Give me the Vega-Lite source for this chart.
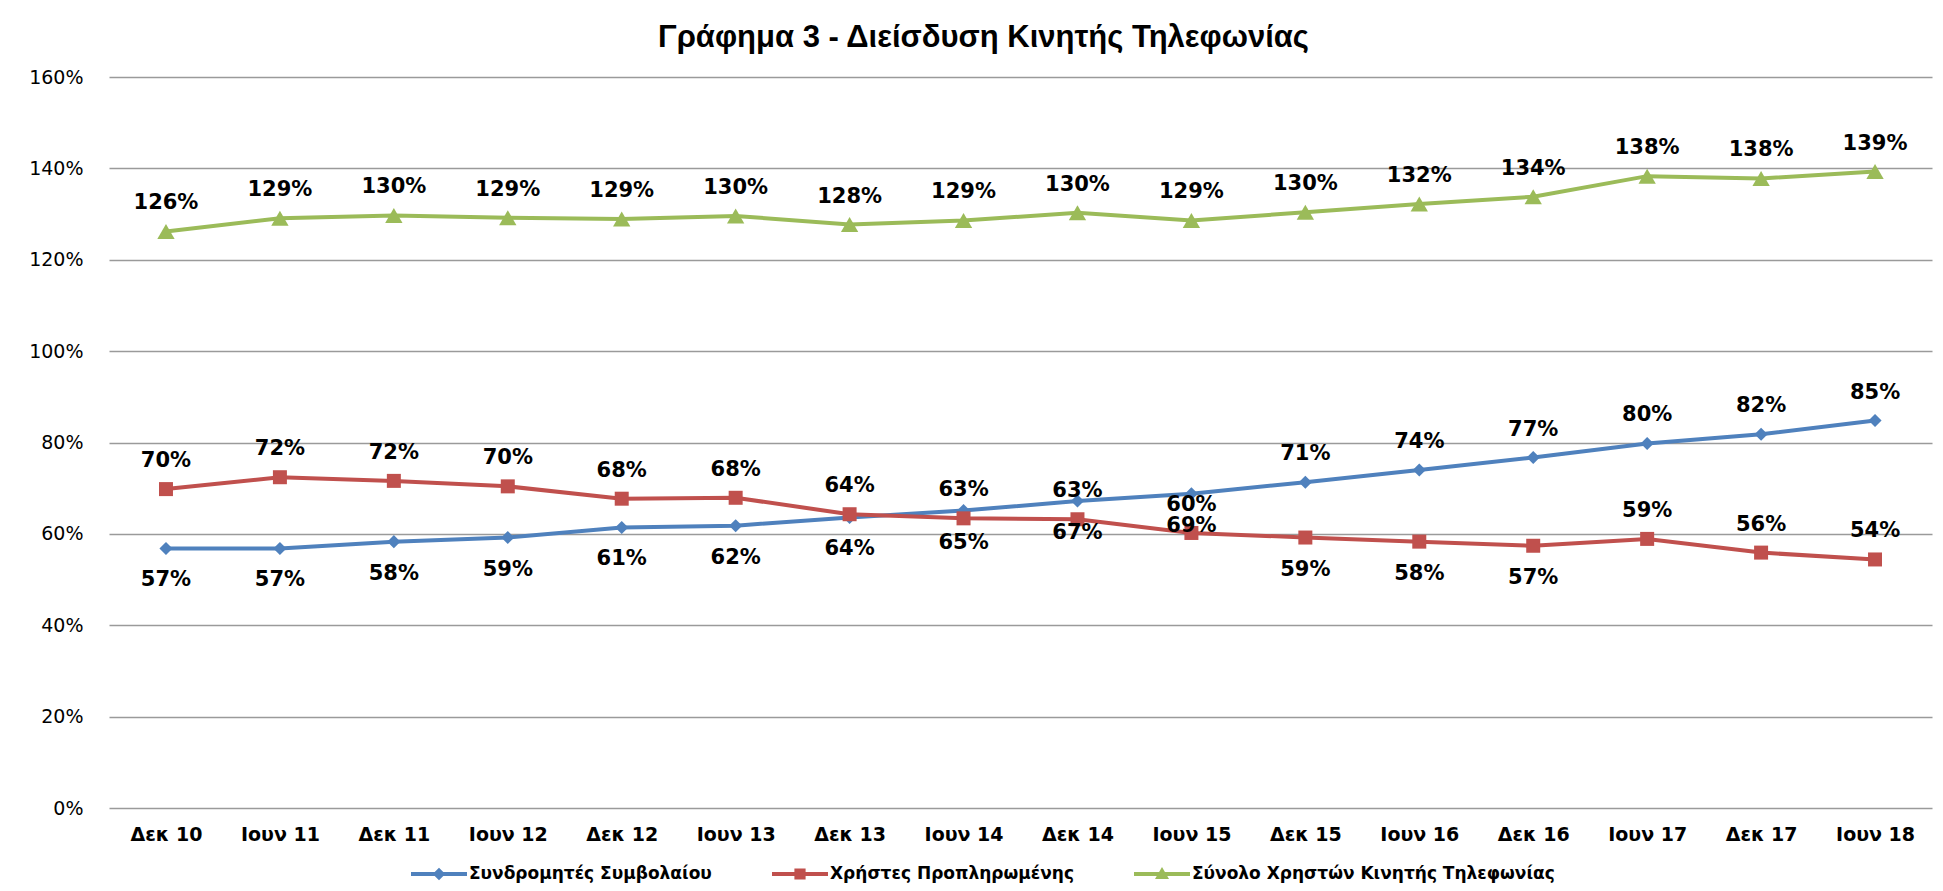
{
  "$schema": "https://vega.github.io/schema/vega-lite/v6.json",
  "width": 1823,
  "height": 731,
  "autosize": {"type": "none"},
  "padding": {"left": 109, "top": 77, "right": 11, "bottom": 83},
  "background": "white",
  "title": {
    "text": "Γράφημα 3 - Διείσδυση Κινητής Τηλεφωνίας",
    "font": "Liberation Sans Narrow, Arial Narrow, Liberation Sans",
    "fontSize": 31,
    "fontWeight": "bold",
    "color": "#000000",
    "anchor": "middle",
    "dx": -37,
    "offset": 14
  },
  "config": {
    "view": {"stroke": null},
    "axis": {"domain": false, "ticks": false}
  },
  "data": {
    "values": [
      {"period": "Δεκ 10", "series": "Συνδρομητές Συμβολαίου", "value": 0.568},
      {"period": "Ιουν 11", "series": "Συνδρομητές Συμβολαίου", "value": 0.568},
      {"period": "Δεκ 11", "series": "Συνδρομητές Συμβολαίου", "value": 0.583},
      {"period": "Ιουν 12", "series": "Συνδρομητές Συμβολαίου", "value": 0.592},
      {"period": "Δεκ 12", "series": "Συνδρομητές Συμβολαίου", "value": 0.614},
      {"period": "Ιουν 13", "series": "Συνδρομητές Συμβολαίου", "value": 0.618},
      {"period": "Δεκ 13", "series": "Συνδρομητές Συμβολαίου", "value": 0.636},
      {"period": "Ιουν 14", "series": "Συνδρομητές Συμβολαίου", "value": 0.651},
      {"period": "Δεκ 14", "series": "Συνδρομητές Συμβολαίου", "value": 0.672},
      {"period": "Ιουν 15", "series": "Συνδρομητές Συμβολαίου", "value": 0.688},
      {"period": "Δεκ 15", "series": "Συνδρομητές Συμβολαίου", "value": 0.713},
      {"period": "Ιουν 16", "series": "Συνδρομητές Συμβολαίου", "value": 0.740},
      {"period": "Δεκ 16", "series": "Συνδρομητές Συμβολαίου", "value": 0.767},
      {"period": "Ιουν 17", "series": "Συνδρομητές Συμβολαίου", "value": 0.798},
      {"period": "Δεκ 17", "series": "Συνδρομητές Συμβολαίου", "value": 0.818},
      {"period": "Ιουν 18", "series": "Συνδρομητές Συμβολαίου", "value": 0.848},
      {"period": "Δεκ 10", "series": "Χρήστες Προπληρωμένης", "value": 0.698},
      {"period": "Ιουν 11", "series": "Χρήστες Προπληρωμένης", "value": 0.724},
      {"period": "Δεκ 11", "series": "Χρήστες Προπληρωμένης", "value": 0.716},
      {"period": "Ιουν 12", "series": "Χρήστες Προπληρωμένης", "value": 0.704},
      {"period": "Δεκ 12", "series": "Χρήστες Προπληρωμένης", "value": 0.677},
      {"period": "Ιουν 13", "series": "Χρήστες Προπληρωμένης", "value": 0.679},
      {"period": "Δεκ 13", "series": "Χρήστες Προπληρωμένης", "value": 0.643},
      {"period": "Ιουν 14", "series": "Χρήστες Προπληρωμένης", "value": 0.634},
      {"period": "Δεκ 14", "series": "Χρήστες Προπληρωμένης", "value": 0.632},
      {"period": "Ιουν 15", "series": "Χρήστες Προπληρωμένης", "value": 0.602},
      {"period": "Δεκ 15", "series": "Χρήστες Προπληρωμένης", "value": 0.592},
      {"period": "Ιουν 16", "series": "Χρήστες Προπληρωμένης", "value": 0.583},
      {"period": "Δεκ 16", "series": "Χρήστες Προπληρωμένης", "value": 0.574},
      {"period": "Ιουν 17", "series": "Χρήστες Προπληρωμένης", "value": 0.589},
      {"period": "Δεκ 17", "series": "Χρήστες Προπληρωμένης", "value": 0.559},
      {"period": "Ιουν 18", "series": "Χρήστες Προπληρωμένης", "value": 0.544},
      {"period": "Δεκ 10", "series": "Σύνολο Χρηστών Κινητής Τηλεφωνίας", "value": 1.262},
      {"period": "Ιουν 11", "series": "Σύνολο Χρηστών Κινητής Τηλεφωνίας", "value": 1.291},
      {"period": "Δεκ 11", "series": "Σύνολο Χρηστών Κινητής Τηλεφωνίας", "value": 1.297},
      {"period": "Ιουν 12", "series": "Σύνολο Χρηστών Κινητής Τηλεφωνίας", "value": 1.292},
      {"period": "Δεκ 12", "series": "Σύνολο Χρηστών Κινητής Τηλεφωνίας", "value": 1.289},
      {"period": "Ιουν 13", "series": "Σύνολο Χρηστών Κινητής Τηλεφωνίας", "value": 1.296},
      {"period": "Δεκ 13", "series": "Σύνολο Χρηστών Κινητής Τηλεφωνίας", "value": 1.277},
      {"period": "Ιουν 14", "series": "Σύνολο Χρηστών Κινητής Τηλεφωνίας", "value": 1.286},
      {"period": "Δεκ 14", "series": "Σύνολο Χρηστών Κινητής Τηλεφωνίας", "value": 1.303},
      {"period": "Ιουν 15", "series": "Σύνολο Χρηστών Κινητής Τηλεφωνίας", "value": 1.286},
      {"period": "Δεκ 15", "series": "Σύνολο Χρηστών Κινητής Τηλεφωνίας", "value": 1.304},
      {"period": "Ιουν 16", "series": "Σύνολο Χρηστών Κινητής Τηλεφωνίας", "value": 1.322},
      {"period": "Δεκ 16", "series": "Σύνολο Χρηστών Κινητής Τηλεφωνίας", "value": 1.338},
      {"period": "Ιουν 17", "series": "Σύνολο Χρηστών Κινητής Τηλεφωνίας", "value": 1.383},
      {"period": "Δεκ 17", "series": "Σύνολο Χρηστών Κινητής Τηλεφωνίας", "value": 1.378},
      {"period": "Ιουν 18", "series": "Σύνολο Χρηστών Κινητής Τηλεφωνίας", "value": 1.393}
    ]
  },
  "encoding": {
    "x": {
      "field": "period",
      "type": "nominal",
      "sort": null,
      "scale": {"type": "point", "padding": 0.5},
      "axis": {
        "title": null,
        "labelAngle": 0,
        "labelFont": "DejaVu Sans",
        "labelFontWeight": "bold",
        "labelFontSize": 19,
        "labelColor": "#000000",
        "labelPadding": 17,
        "grid": false
      }
    },
    "y": {
      "field": "value",
      "type": "quantitative",
      "scale": {"domain": [0, 1.6], "nice": false, "zero": true},
      "axis": {
        "title": null,
        "values": [0, 0.2, 0.4, 0.6, 0.8, 1.0, 1.2, 1.4, 1.6],
        "format": ".0%",
        "labelFont": "DejaVu Sans",
        "labelFontSize": 19,
        "labelColor": "#000000",
        "labelPadding": 26,
        "grid": true,
        "gridColor": "#9a9a9a",
        "gridWidth": 1.6
      }
    },
    "color": {
      "field": "series",
      "type": "nominal",
      "scale": {
        "domain": ["Συνδρομητές Συμβολαίου", "Χρήστες Προπληρωμένης", "Σύνολο Χρηστών Κινητής Τηλεφωνίας"],
        "range": ["#4F81BD", "#C0504D", "#9BBB59"]
      },
      "legend": {
        "title": null,
        "orient": "none",
        "direction": "horizontal",
        "legendX": 316,
        "legendY": 783,
        "padding": 0,
        "symbolSize": 784,
        "labelOffset": 16,
        "columnPadding": 60,
        "labelFont": "DejaVu Sans",
        "labelFontWeight": "bold",
        "labelFontSize": 17,
        "labelColor": "#000000",
        "labelLimit": 700,
        "encode": {
          "symbols": {
            "update": {
              "shape": {"signal": "datum.value == 'Συνδρομητές Συμβολαίου' ? 'M-2,-0.14L2,-0.14L2,0.14L-2,0.14Z M0,-0.45L0.45,0L0,0.45L-0.45,0Z' : datum.value == 'Χρήστες Προπληρωμένης' ? 'M-2,-0.14L2,-0.14L2,0.14L-2,0.14Z M-0.4,-0.4L0.4,-0.4L0.4,0.4L-0.4,0.4Z' : 'M-2,-0.14L2,-0.14L2,0.14L-2,0.14Z M0,-0.5L0.5,0.35L-0.5,0.35Z'"},
              "fill": {"signal": "datum.value == 'Συνδρομητές Συμβολαίου' ? '#4F81BD' : datum.value == 'Χρήστες Προπληρωμένης' ? '#C0504D' : '#9BBB59'"},
              "stroke": {"value": "transparent"},
              "strokeWidth": {"value": 0},
              "opacity": {"value": 1},
              "size": {"value": 784}
            }
          }
        }
      }
    }
  },
  "layer": [
    {
      "mark": {"type": "line", "strokeWidth": 4}
    },
    {
      "transform": [{"filter": "datum.series == 'Συνδρομητές Συμβολαίου'"}],
      "mark": {"type": "point", "filled": true, "opacity": 1, "shape": "diamond", "size": 170}
    },
    {
      "transform": [{"filter": "datum.series == 'Χρήστες Προπληρωμένης'"}],
      "mark": {"type": "point", "filled": true, "opacity": 1, "shape": "square", "size": 196}
    },
    {
      "transform": [{"filter": "datum.series == 'Σύνολο Χρηστών Κινητής Τηλεφωνίας'"}],
      "mark": {"type": "point", "filled": true, "opacity": 1, "shape": "triangle-up", "size": 300}
    },
    {
      "transform": [
        {"filter": "datum.series == 'Σύνολο Χρηστών Κινητής Τηλεφωνίας' || (datum.series == 'Συνδρομητές Συμβολαίου' && indexof(['Δεκ 15','Ιουν 16','Δεκ 16','Ιουν 17','Δεκ 17','Ιουν 18'], datum.period) >= 0) || (datum.series == 'Χρήστες Προπληρωμένης' && indexof(['Δεκ 15','Ιουν 16','Δεκ 16'], datum.period) < 0)"}
      ],
      "mark": {"type": "text", "font": "DejaVu Sans", "fontWeight": "bold", "fontSize": 21, "color": "#000000", "dy": -28, "baseline": "middle"},
      "encoding": {"text": {"field": "value", "type": "quantitative", "format": ".0%"}, "color": {"value": "#000000"}}
    },
    {
      "transform": [
        {"filter": "!(datum.series == 'Σύνολο Χρηστών Κινητής Τηλεφωνίας' || (datum.series == 'Συνδρομητές Συμβολαίου' && indexof(['Δεκ 15','Ιουν 16','Δεκ 16','Ιουν 17','Δεκ 17','Ιουν 18'], datum.period) >= 0) || (datum.series == 'Χρήστες Προπληρωμένης' && indexof(['Δεκ 15','Ιουν 16','Δεκ 16'], datum.period) < 0))"}
      ],
      "mark": {"type": "text", "font": "DejaVu Sans", "fontWeight": "bold", "fontSize": 21, "color": "#000000", "dy": 32, "baseline": "middle"},
      "encoding": {"text": {"field": "value", "type": "quantitative", "format": ".0%"}, "color": {"value": "#000000"}}
    }
  ]
}
